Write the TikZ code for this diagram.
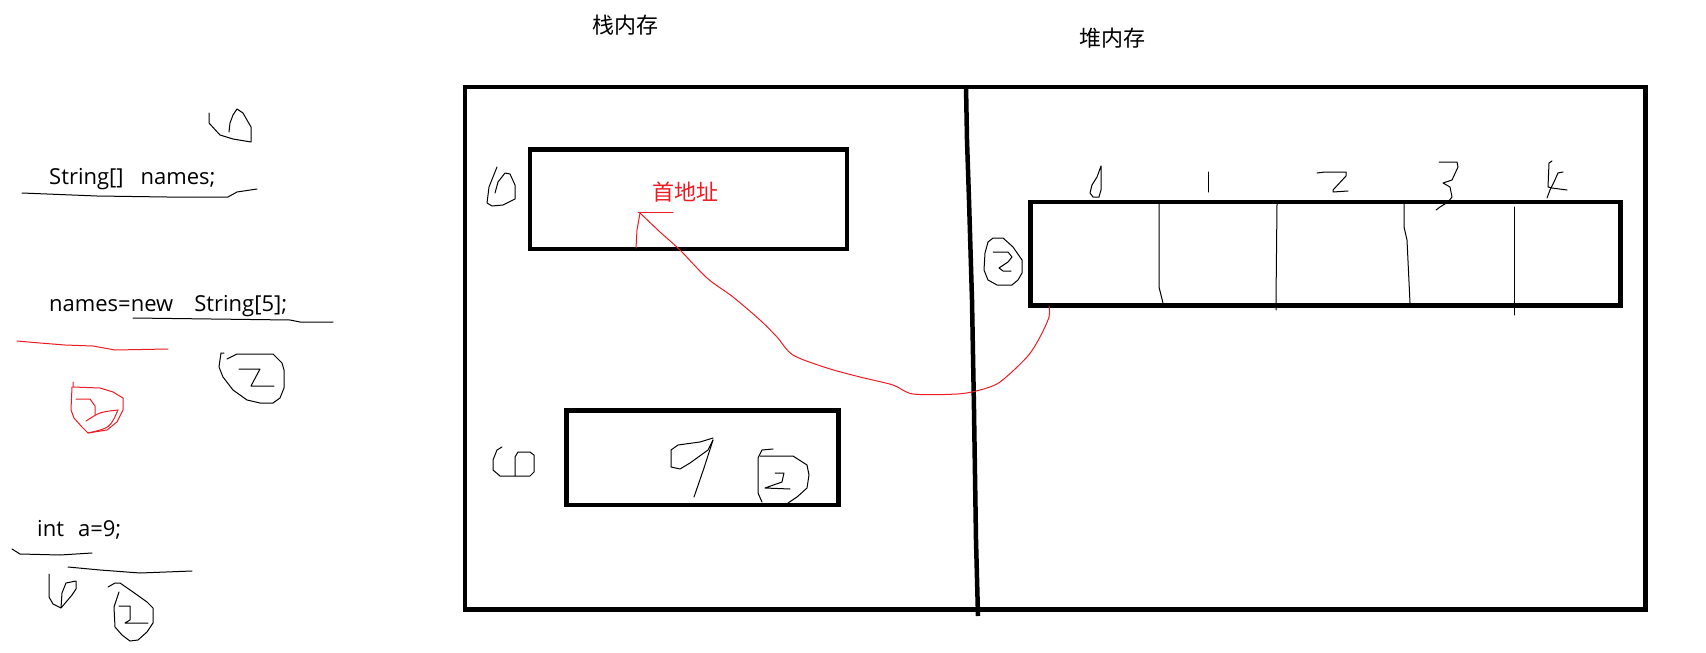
\documentclass[tikz,border=0pt]{standalone}
\usepackage{fontspec}
\setmainfont{Open Sans}
\newfontfamily\cjk{Noto Sans CJK SC}
\definecolor{pred}{RGB}{237,28,36}
\tikzset{
  box/.style={draw=black, line width=4.3pt, inner sep=0pt, minimum width=#1},
  memline/.style={draw=black, line width=4.5pt, line join=round},
  pen/.style={draw=black, line width=1pt, line join=round, line cap=round},
  redpen/.style={draw=pred, line width=1pt, line join=round, line cap=round},
  code/.style={font=\fontsize{22}{22}\selectfont, anchor=base west, inner sep=0pt},
  cn/.style={font=\cjk\fontsize{22}{22}\selectfont, inner sep=0pt},
}
\begin{document}
\begin{tikzpicture}[x=1pt,y=-1pt]
\useasboundingbox (0,0) rectangle (1706,653);
\fill[white] (0,0) rectangle (1706,653);

% titles
\node[cn] (stacklbl) at (625.5,25) {栈内存};
\node[cn] (heaplbl) at (1112,38.5) {堆内存};

% outer memory box and divider
\node[box=1180.5pt, minimum height=522.5pt] (mem) at (1055.25,348.25) {};
\coordinate (divtop) at (966,86);
\coordinate (divbot) at (978,616);
\draw[memline] (divtop) -- (967,140) -- (969,200) -- (972,300) -- (974,410) -- (976,540) -- (divbot);

% stack boxes
\node[box=317pt, minimum height=99.5pt] (stack1) at (688.5,199.25) {};
\node[box=272pt, minimum height=94.5pt] (stack2) at (702.5,457.75) {};
% heap array
\node[box=590pt, minimum height=103.5pt] (arr) at (1325.5,253.75) {};
\draw[pen] (1159,204) -- (1159,287) -- (1161,295) -- (1163,303);
\draw[pen] (1277,204) -- (1276,300) -- (1276,310);
\draw[pen] (1404,204) -- (1404,227) -- (1407,240) -- (1410,303);
\draw[pen] (1514,207) -- (1514,315);

% index digits (handwritten)
\draw[pen] (1101,166) -- (1097,177) -- (1092,185) -- (1090,193) -- (1093,197) -- (1099,197) -- (1101,190) -- cycle;
\draw[pen] (1208,172) -- (1208,192);
\draw[pen] (1317,173) -- (1325,172) -- (1346,172) -- (1346,176) -- (1333,190) -- (1333,192) -- (1348,191);
\draw[pen] (1439,162) -- (1457,162) -- (1458,167) -- (1452,180) -- (1443,183) -- (1450,187) -- (1452,197) -- (1448,202) -- (1440,207) -- (1436,210);
\draw[pen] (1552,161) -- (1549,163) -- (1548,187) -- (1552,188) -- (1567,190);
\draw[pen] (1563,172) -- (1558,173) -- (1554,182) -- (1550,190) -- (1547,198);

% address label
\node[cn, text=pred] (addr) at (685.5,192) {首地址};
\coordinate (addrmark) at (640,213);
\draw[redpen] (638,212) -- (673,212);
\draw[redpen] (addrmark) -- (637,230) -- (636,248);
\coordinate (arrfoot) at (1049,306);
\draw[redpen] plot[smooth, tension=0.5] coordinates {(640,213) (660,232) (680,250) (707,278) (733,297) (760,320) (777,337) (793,355) (827,368) (860,377) (893,385) (913,394) (957,394) (980,390) (1000,382) (1027,357) (1040,337) (1049,317) (1049,306)};

% circled marks inside memory
\draw[pen] (497,167) -- (489,187) -- (487,203) -- (492,206) -- (503,205) -- (515,199) -- (515,185) -- (510,174) -- (505,173) -- (498,182) -- (495,193);
\draw[pen] (502,447) -- (497,450) -- (493,460) -- (493,470) -- (500,476) -- (530,476) -- (534,472) -- (534,455) -- (530,452) -- (518,452) -- (515,457) -- (515,476);
\draw[pen] (694,497) -- (704,468) -- (713,440);
\draw[pen] (713,438) -- (700,442) -- (678,445) -- (671,450) -- (671,467) -- (680,469) -- (690,463) -- (708,450) -- (713,440);
\draw[pen] (773,449) -- (762,450) -- (758,458) -- (758,493) -- (762,502);
\draw[pen] (760,456) -- (793,456) -- (807,465) -- (809,475) -- (807,488) -- (797,497) -- (788,503);
\draw[pen] (775,473) -- (784,473) -- (782,482) -- (765,488) -- (790,489);
\draw[pen] (993,238) -- (1003,238) -- (1013,247) -- (1022,260) -- (1022,273) -- (1018,280) -- (1012,285) -- (997,285) -- (988,280) -- (984,270) -- (985,253) -- (988,242) -- cycle;
\draw[pen] (993,252) -- (1008,252) -- (1012,257) -- (1008,262) -- (999,268) -- (1003,271) -- (1011,271);

% code lines
\node[code] (decl) at (49,184) {String[]\hspace{17pt}names;};
\node[code] (alloc) at (49,311) {names=new\hspace{21pt}String[5];};
\node[code] (intline) at (37,536) {int\hspace{14pt}a=9;};

% left annotations
\draw[pen] (209,113) -- (209,123) -- (220,135) -- (233,139) -- (251,142) -- (251,127) -- (247,120) -- (243,113) -- (237,109) -- (233,115) -- (230,123) -- (229,132);
\draw[pen] (22,193) -- (97,196) -- (167,197) -- (228,197) -- (237,192) -- (257,189);
\draw[pen] (133,318) -- (290,320) -- (300,322) -- (333,322);
\draw[redpen] (17,341) -- (40,343) -- (65,345) -- (93,346) -- (115,350) -- (168,349);
\draw[redpen] (73,382) -- (73,387) -- (100,388) -- (113,392) -- (123,398) -- (123,410) -- (117,422) -- (107,430) -- (88,433) -- (82,427) -- (74,418) -- (71,410) -- (72,387);
\draw[redpen] (76,399) -- (90,399) -- (95,406) -- (95,415);
\draw[redpen] (86,421) .. controls (100,412) .. (118,410);
\draw[redpen] (88,433) .. controls (110,428) .. (118,410);
\draw[pen] (227,359) -- (237,354) -- (273,354) -- (282,363) -- (284,370) -- (284,388) -- (280,398) -- (273,403) -- (260,403) -- (247,400) -- (233,390) -- (223,377) -- (219,367) -- (221,353) -- (224,353);
\draw[pen] (239,369) -- (260,369) -- (251,386) -- (274,386);
\draw[pen] (12,549) -- (20,554) -- (60,555) -- (92,553);
\draw[pen] (68,567) -- (100,570) -- (140,573) -- (192,571);
\draw[pen] (49,574) -- (49,597) -- (53,604) -- (61,608) -- (72,595) -- (76,589) -- (76,581) -- (66,583) -- (62,593) -- (61,608);
\draw[pen] (108,587) -- (115,583) -- (120,583) -- (133,592) -- (147,602) -- (153,608) -- (153,623) -- (147,632) -- (138,640) -- (130,641) -- (122,635) -- (115,627) -- (114,607) -- (119,592);
\draw[pen] (119,606) -- (130,606) -- (130,620) -- (125,623) -- (148,623);
\end{tikzpicture}
\end{document}
